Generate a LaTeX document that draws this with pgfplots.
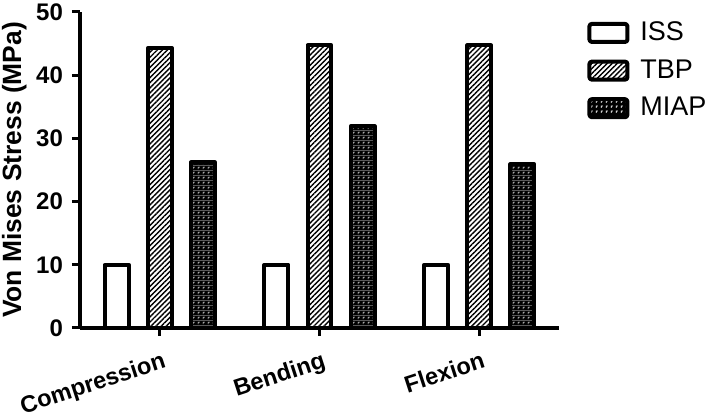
\documentclass[border=0pt]{standalone}
\usepackage{pgfplots}
\pgfplotsset{compat=1.18}
\usetikzlibrary{patterns,patterns.meta}
\usepackage{fontspec}
\setmainfont{Liberation Sans}

% dark bar with small white marks (MIAP)
\tikzdeclarepattern{
  name=miap, type=colored,
  bottom left={(0pt,0pt)}, top right={(2.4pt,2.4pt)}, tile size={(2.4pt,2.4pt)},
  code={
    \fill[black] (0pt,0pt) rectangle (2.4pt,2.4pt);
    \draw[white, line width=0.35pt] (0.6pt,0.5pt) -- (0.6pt,1.5pt) -- (1.5pt,1.5pt);
  }
}

\begin{document}
\begin{tikzpicture}
\begin{axis}[
    name=ax, scale only axis, width=239.5pt, height=158pt,
    xmin=-0.5, xmax=2.5, ymin=0, ymax=50,
    axis x line*=bottom, axis y line*=left,
    axis line style={line width=1.8pt, black},
    ytick={0,10,...,50}, xtick={0,1,2},
    xticklabels={Compression, Bending, Flexion},
    tick style={line width=1.5pt, black}, tick align=outside, major tick length=4pt,
    /pgf/number format/assume math mode=true,
    yticklabel style={font=\bfseries\fontsize{12}{14}\selectfont, xshift=-1pt},
    xticklabel style={font=\bfseries\fontsize{11.8}{13}\selectfont, rotate=18, anchor=north east, yshift=-4pt, xshift=2pt},
    ylabel={Von Mises Stress (MPa)},
    ylabel style={font=\bfseries\fontsize{13.2}{15}\selectfont, yshift=-2pt},
    legend style={at={(1.046,0.995)}, anchor=north west, draw=none, fill=none,
                  font=\fontsize{13.5}{15}\selectfont, row sep=4pt,
                  nodes={inner xsep=5.5pt}},
    legend cell align=left,
    legend image code/.code={\draw[#1, rounded corners=1.2pt] (0pt,-4.5pt) rectangle (19pt,4.5pt);},
    every axis plot/.append style={ybar, bar width=0.15, draw=black, line width=2pt, line join=round},
]
\addplot[bar shift=-0.27, fill=white] coordinates {(0,10.0) (1,10.0) (2,10.0)};
\addplot[bar shift=0, pattern={Lines[angle=45, distance=1.8pt, line width=0.7pt]}]
  coordinates {(0,44.3) (1,44.7) (2,44.7)};
\addplot[bar shift=0.27, pattern=miap] coordinates {(0,26.2) (1,31.9) (2,25.9)};
\legend{ISS, TBP, MIAP}
\end{axis}
\pgfresetboundingbox
\path[use as bounding box] ([shift={(-40pt,-44pt)}]ax.south west) rectangle ([shift={(314.5pt,164pt)}]ax.south west);
\end{tikzpicture}
\end{document}
